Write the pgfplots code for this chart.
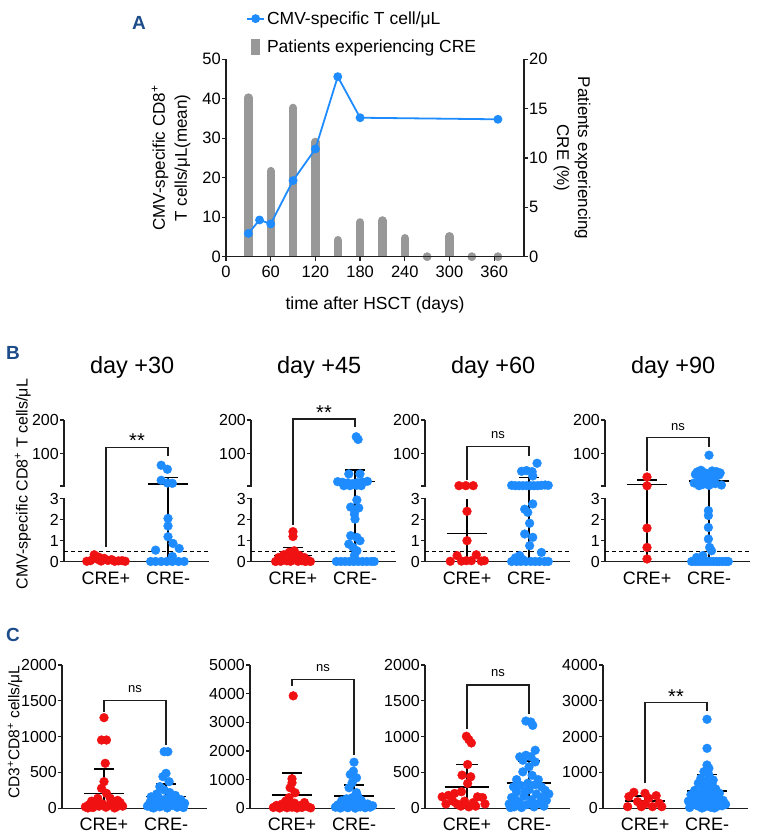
\documentclass[border=0pt]{standalone}
\usepackage{fontspec}
\setmainfont{Liberation Sans}
\usepackage{pgfplots}
\pgfplotsset{compat=1.18}
\definecolor{myred}{RGB}{240,18,18}
\definecolor{myblue}{RGB}{30,140,255}
\definecolor{bargrey}{RGB}{152,152,152}
\definecolor{lblue}{RGB}{28,76,138}
\definecolor{axc}{RGB}{30,30,30}
\pgfplotsset{
  /pgf/number format/assume math mode=true,
  /pgf/number format/1000 sep={},
  dotax/.style={
    scale only axis, width=145pt, xmin=0.3226, xmax=2.661,
    axis x line*=bottom, axis y line*=left,
    xtick={1,2}, xticklabels={CRE+,CRE-}, xtick style={draw=none},
    clip=false, tick align=outside, major tick length=4pt,
    axis line style={line width=1.3pt, axc},
    ytick style={line width=1.3pt, axc},
    xticklabel style={font=\fontsize{18}{20}\selectfont, yshift=-2.5pt},
    yticklabel style={font=\fontsize{16}{18}\selectfont, inner sep=1pt},
    title style={at={(axis description cs:0.47,1.332)}, anchor=center, font=\fontsize{23.5}{26}\selectfont},
  },
  bax/.style={dotax, height=141.7pt, ymin=0, ymax=200,
    y coord trafo/.code={\pgfmathparse{min(##1,3)+max(##1-3,0)*0.015954+0.605*(##1>3)}},
    y coord inv trafo/.code={\pgfmathparse{min(##1,3)+max(##1-3.605,0)/0.015954}},
    ytick={0,1,2,3,3.001,100,200}, yticklabels={0,1,2,3,,100,200}},
  cax/.style={dotax, height=143.3pt, ymin=0},
  rp/.style={only marks, mark=*, mark size=4.4pt, color=myred},
  bp/.style={only marks, mark=*, mark size=4.4pt, color=myblue},
  ml/.style={black, line width=1.6pt, mark=none},
  br/.style={axc, line width=1.2pt, mark=none},
  dl/.style={black, line width=1.1pt, dash pattern=on 4pt off 3pt, mark=none},
}
\newcommand{\gapfill}{\fill[white] ([xshift=-3pt]rel axis cs:0,0.4495) rectangle ([xshift=3pt]rel axis cs:0,0.5293);}
\begin{document}
\begin{tikzpicture}
\path[use as bounding box] (0pt,0pt) rectangle (759pt,838pt);
% ---------------- Panel A ----------------
\node[font=\fontsize{19}{20}\selectfont\bfseries, text=lblue] at (139pt,815pt) {A};
\begin{axis}[at={(226pt,581.3pt)}, anchor=south west, scale only axis, width=298pt, height=197.4pt,
  xmin=0, xmax=400, ymin=0, ymax=20, axis y line*=right, axis x line=none,
  ytick={0,5,...,20}, tick align=outside, major tick length=4pt,
  axis line style={line width=1.3pt, axc}, ytick style={line width=1.3pt, axc},
  yticklabel style={font=\fontsize{16.5}{18}\selectfont, inner sep=1pt},
  ylabel={Patients experiencing\\CRE (\%)},
  ylabel style={align=center, at={(axis description cs:1.161,0.5)}, anchor=center, rotate=180, font=\fontsize{17}{21}\selectfont}]
\addplot[ycomb, bargrey, line width=8.3pt, line cap=round] coordinates {
 (30,16.13) (60,8.68) (90,15.08) (120,11.64) (150,1.68) (180,3.48) (210,3.68) (240,1.88) (300,2.08)};
\addplot[only marks, mark=*, mark size=4.15pt, bargrey] coordinates {(270,0) (330,0) (365,0)};
\end{axis}
\begin{axis}[at={(226pt,581.3pt)}, anchor=south west, scale only axis, width=298pt, height=197.4pt,
  xmin=0, xmax=400, ymin=0, ymax=50, axis y line*=left, axis x line*=bottom,
  xtick={0,60,...,360}, ytick={0,10,...,50}, tick align=outside, major tick length=4pt,
  axis line style={line width=1.3pt, axc}, tick style={line width=1.3pt, axc},
  tick label style={font=\fontsize{16.5}{18}\selectfont, inner sep=1pt},
  xticklabel style={yshift=-4pt},
  xlabel={time after HSCT (days)},
  xlabel style={at={(axis description cs:0.5,-0.245)}, anchor=center, font=\fontsize{17.5}{20}\selectfont},
  ylabel={CMV-specific CD8\textsuperscript{+}\\T cells/μL(mean)},
  ylabel style={align=center, at={(axis description cs:-0.1846,0.5)}, anchor=center, font=\fontsize{17}{22}\selectfont},
  legend style={at={(axis description cs:0.067,1.253)}, anchor=north west, draw=none, fill=none,
     font=\fontsize{17.5}{20}\selectfont, row sep=10pt, inner sep=0pt,
     /tikz/every even column/.append style={column sep=4pt}},
  legend cell align=left]
\addplot[myblue, line width=1.8pt, mark=*, mark size=3.5pt] coordinates {
 (30,5.9) (45,9.3) (60,8.3) (90,19.3) (120,27.3) (150,45.6) (180,35.2) (365,34.8)};
\addlegendentry{CMV-specific T cell/μL}
\addlegendimage{legend image code/.code={\fill[bargrey] (4.54pt,-7.5pt) rectangle (12.54pt,7.5pt);}}
\addlegendentry{Patients experiencing CRE}
\end{axis}
% ---------------- Panel B ----------------
\node[font=\fontsize{19}{20}\selectfont\bfseries, text=lblue] at (13pt,485pt) {B};
% B1
\begin{axis}[bax, at={(64pt,276.3pt)}, anchor=south west, title={day +30},
  ylabel={CMV-specific CD8\textsuperscript{+} T cells/μL},
  ylabel style={at={(axis description cs:-0.283,0.548)}, anchor=center, font=\fontsize{16}{18}\selectfont}]
\gapfill
\addplot[dl] coordinates {(0.3226,0.5) (2.661,0.5)};
\addplot[br] coordinates {(1,0.71) (1,117) (2,117) (2,92.5)};
\addplot[rp] coordinates {(0.69,0.02) (0.75,0.05) (0.81,0.33) (0.86,0.12) (0.92,0.03) (0.97,0.16) (1.03,0.06) (1.09,0.1) (1.14,0.02) (1.2,0.04) (1.26,0.05) (1.31,0.02) (0.88,0.22)};
\addplot[bp] coordinates {(1.89,65) (1.99,53) (1.89,20) (1.99,12) (2.07,11) (2.0,2.06) (2.0,1.7) (2.0,1.19) (2.08,0.87) (1.8,0.55) (2.18,0.63) (2.07,0.25) (1.72,0.01) (1.8,0.01) (1.89,0.01) (1.98,0.01) (2.07,0.01) (2.17,0.01) (2.26,0.01)};
\addplot[ml] coordinates {(1.68,9) (2.32,9)};
\addplot[ml] coordinates {(2,0) (2,29)};
\addplot[ml] coordinates {(1.84,29) (2.16,29)};
\node[font=\fontsize{20}{20}\selectfont, yshift=-4pt] at (rel axis cs:0.5036,0.88) {**};
\end{axis}
% B2
\begin{axis}[bax, at={(251pt,276.3pt)}, anchor=south west, title={day +45}]
\gapfill
\addplot[dl] coordinates {(0.3226,0.5) (2.661,0.5)};
\addplot[br] coordinates {(1,1.75) (1,203) (2,203) (2,179)};
\addplot[rp] coordinates {(1,1.43) (1,1.2) (0.72,0.01) (0.77,0.2) (0.81,0.08) (0.85,0.33) (0.9,0.04) (0.94,0.45) (0.98,0.2) (1.02,0.52) (1.06,0.12) (1.1,0.3) (1.14,0.05) (1.18,0.2) (1.23,0.08) (1.28,0.01) (0.8,0.02) (1.2,0.01) (0.96,0.02) (1.08,0.02)};
\addplot[ml] coordinates {(0.7,0.29) (1.3,0.29)};
\addplot[ml] coordinates {(1,0) (1,0.68)};
\addplot[ml] coordinates {(0.84,0.68) (1.16,0.68)};
\addplot[bp] coordinates {(2.02,150) (2.05,142) (1.9,39) (2.08,39) (1.72,16) (1.8,14) (1.88,12) (1.96,10) (2.04,13) (2.12,15) (2.2,17) (1.82,4) (1.92,4) (2.02,5) (2.1,4) (2.03,2.94) (2.06,2.56) (1.93,2.6) (1.99,2.27) (2.0,2.03) (1.93,1.24) (2.03,1.16) (2.08,1.0) (1.9,0.84) (1.97,0.68) (2.03,0.52) (1.99,0.3) (1.7,0.01) (1.77,0.01) (1.84,0.01) (1.91,0.01) (1.98,0.01) (2.05,0.01) (2.12,0.01) (2.19,0.01) (2.26,0.01) (2.31,0.01)};
\addplot[ml] coordinates {(1.68,16) (2.32,16)};
\addplot[ml] coordinates {(2,0) (2,51)};
\addplot[ml] coordinates {(1.84,51) (2.16,51)};
\node[font=\fontsize{20}{20}\selectfont, yshift=-4pt] at (rel axis cs:0.5036,1.078) {**};
\end{axis}
% B3
\begin{axis}[bax, at={(425pt,276.3pt)}, anchor=south west, title={day +60}]
\gapfill
\addplot[dl] coordinates {(0.3226,0.5) (2.661,0.5)};
\addplot[br] coordinates {(1,21) (1,120) (2,120) (2,92.5)};
\addplot[ml] coordinates {(1,0) (1,3)};
\addplot[rp] coordinates {(0.87,4) (0.98,4) (1.1,4) (1,2.4) (1,1.0) (0.84,0.29) (1.15,0.33) (0.73,0.02) (0.91,0.03) (0.99,0.05) (1.07,0.05) (1.23,0.03) (1.28,0.05)};
\addplot[ml] coordinates {(0.67,1.35) (1.33,1.35)};
\addplot[ml] coordinates {(2,0) (2,29)};
\addplot[bp] coordinates {(2.13,71) (1.88,47) (1.96,49) (2.05,46) (2.06,33) (1.72,5) (1.78,4) (1.84,4) (1.9,4) (1.96,4) (2.02,4) (2.08,4) (2.14,4) (2.2,5) (2.26,6) (2.31,5) (2.06,2.75) (1.93,2.5) (1.98,2.35) (2.01,1.83) (1.93,1.32) (2.06,1.16) (2.01,0.76) (2.2,0.44) (1.85,0.29) (1.78,0.18) (1.9,0.1) (1.72,0.01) (1.8,0.01) (1.87,0.01) (1.95,0.01) (2.03,0.01) (2.1,0.01) (2.17,0.01) (2.25,0.01) (2.31,0.01)};
\addplot[ml] coordinates {(1.84,29) (2.16,29)};
\node[font=\fontsize{13}{14}\selectfont] at (rel axis cs:0.5036,0.894) {ns};
\end{axis}
% B4
\begin{axis}[bax, at={(605pt,276.3pt)}, anchor=south west, title={day +90}]
\gapfill
\addplot[dl] coordinates {(0.3226,0.5) (2.661,0.5)};
\addplot[br] coordinates {(1,48) (1,148) (2,148) (2,120)};
\addplot[ml] coordinates {(1,0) (1,21)};
\addplot[rp] coordinates {(1,30) (1,3.7) (1,1.6) (1,0.68) (1,0.13)};
\addplot[ml] coordinates {(0.67,7.8) (1.33,7.8)};
\addplot[ml] coordinates {(0.84,21) (1.16,21)};
\addplot[ml] coordinates {(2,0) (2,30)};
\addplot[bp] coordinates {(2,95) (1.81,45) (1.87,50) (1.94,42) (2.05,48) (2.12,46) (2.18,42) (1.78,38) (1.9,35) (2.0,33) (2.1,30) (2.16,36) (1.85,25) (1.95,22) (2.05,20) (1.9,8) (2.0,5) (1.84,4) (2.1,10) (2.2,6) (1.76,12) (1.99,2.43) (1.99,2.2) (1.99,1.63) (1.99,1.08) (2.01,0.68) (2.04,0.52) (1.9,0.29) (1.8,0.2) (1.85,0.1) (1.72,0.01) (1.77,0.01) (1.82,0.01) (1.87,0.01) (1.92,0.01) (1.97,0.01) (2.02,0.01) (2.07,0.01) (2.12,0.01) (2.17,0.01) (2.22,0.01) (2.27,0.01) (2.31,0.01)};
\addplot[ml] coordinates {(1.68,17.8) (2.32,17.8)};
\node[font=\fontsize{13}{14}\selectfont] at (rel axis cs:0.5036,0.953) {ns};
\end{axis}
% ---------------- Panel C ----------------
\node[font=\fontsize{19}{20}\selectfont\bfseries, text=lblue] at (13pt,203pt) {C};
% C1
\begin{axis}[cax, at={(62pt,29.7pt)}, anchor=south west, ymax=2000, ytick={0,500,...,2000},
  ylabel={CD3\textsuperscript{+}CD8\textsuperscript{+} cells/μL},
  ylabel style={at={(axis description cs:-0.324,0.532)}, anchor=center, font=\fontsize{15.5}{18}\selectfont}]
\addplot[br] coordinates {(1,1348) (1,1502) (2,1502) (2,883)};
\addplot[rp] coordinates {(1,1265) (0.96,953) (1.04,953) (1.02,628) (1,372) (0.96,279) (1.04,209) (0.9,140) (1.1,140) (0.7,20) (0.76,50) (0.82,10) (0.86,80) (0.92,30) (0.98,60) (1.03,15) (1.08,40) (1.14,70) (1.2,20) (1.26,80) (1.3,30) (0.8,100) (1.22,110) (0.74,5) (1.17,5)};
\addplot[ml] coordinates {(0.67,209) (1.33,209)};
\addplot[ml] coordinates {(1,0) (1,549)};
\addplot[ml] coordinates {(0.84,549) (1.16,549)};
\addplot[bp] coordinates {(1.97,790) (2.03,790) (2,488) (1.95,442) (2.05,372) (1.9,302) (1.97,256) (2.06,220) (1.85,200) (2.15,180) (1.7,30) (1.74,80) (1.78,10) (1.82,120) (1.86,50) (1.9,20) (1.94,100) (1.98,60) (2.02,5) (2.06,140) (2.1,40) (2.14,90) (2.18,15) (2.22,60) (2.26,30) (2.3,70) (1.76,160) (1.88,150) (2.0,130) (2.12,100) (2.24,120) (1.8,5) (2.28,10)};
\addplot[ml] coordinates {(1.68,163) (2.32,163)};
\addplot[ml] coordinates {(2,0) (2,340)};
\addplot[ml] coordinates {(1.84,340) (2.16,340)};
\node[font=\fontsize{13}{14}\selectfont] at (rel axis cs:0.5036,0.8325) {ns};
\end{axis}
% C2
\begin{axis}[cax, at={(250pt,29.7pt)}, anchor=south west, ymax=5000, ytick={0,1000,...,5000}]
\addplot[br] coordinates {(1,4270) (1,4503) (2,4503) (2,1875)};
\addplot[rp] coordinates {(1.02,3924) (1,1030) (1,891) (0.97,718) (1.05,544) (0.95,370) (0.9,255) (0.7,30) (0.75,100) (0.8,10) (0.84,150) (0.88,60) (0.92,20) (0.96,120) (1.0,40) (1.04,180) (1.08,10) (1.12,90) (1.16,30) (1.2,200) (1.25,60) (1.3,15)};
\addplot[ml] coordinates {(0.67,463) (1.33,463)};
\addplot[ml] coordinates {(1,0) (1,1238)};
\addplot[ml] coordinates {(0.84,1238) (1.16,1238)};
\addplot[bp] coordinates {(2,1609) (1.99,1296) (1.94,1180) (2.04,1065) (1.97,891) (1.92,718) (2.04,544) (1.97,370) (2.1,300) (1.85,250) (1.7,40) (1.74,120) (1.78,10) (1.82,180) (1.86,60) (1.9,20) (1.94,140) (1.98,80) (2.02,5) (2.06,200) (2.1,50) (2.14,110) (2.18,20) (2.22,150) (2.26,40) (2.3,90) (1.8,260) (2.12,260) (1.88,330) (2.06,420)};
\addplot[ml] coordinates {(1.68,428) (2.32,428)};
\addplot[ml] coordinates {(2,0) (2,810)};
\addplot[ml] coordinates {(1.84,810) (2.16,810)};
\node[font=\fontsize{13}{14}\selectfont] at (rel axis cs:0.5036,0.979) {ns};
\end{axis}
% C3
\begin{axis}[cax, at={(425pt,29.7pt)}, anchor=south west, ymax=2000, ytick={0,500,...,2000}]
\addplot[br] coordinates {(1,1111) (1,1722) (2,1722) (2,1319)};
\addplot[rp] coordinates {(0.99,1005) (1.03,958) (1.07,912) (1.01,611) (0.92,463) (1.06,440) (1.01,347) (0.91,231) (0.8,208) (0.6,160) (0.7,180) (0.77,100) (0.84,60) (0.9,30) (0.96,100) (1.03,20) (1.1,80) (1.17,160) (1.25,150) (1.29,60) (0.66,60) (1.14,30)};
\addplot[ml] coordinates {(0.64,301) (1.36,301)};
\addplot[ml] coordinates {(1,0) (1,611)};
\addplot[ml] coordinates {(0.83,611) (1.17,611)};
\addplot[bp] coordinates {(1.95,1218) (2.03,1204) (2.06,1157) (2.1,810) (1.95,740) (1.85,718) (2.03,718) (1.9,671) (2.1,648) (2.0,579) (1.9,509) (1.8,400) (2.15,400) (1.75,300) (2.2,300) (2.05,460) (1.68,60) (1.72,150) (1.76,20) (1.8,230) (1.84,90) (1.88,10) (1.92,170) (1.96,50) (2.0,260) (2.04,120) (2.08,20) (2.12,200) (2.16,70) (2.2,150) (2.24,30) (2.28,110) (2.32,200) (1.86,320) (1.98,350) (2.1,330) (1.78,120) (1.94,240) (2.06,60) (2.26,250) (1.7,10)};
\addplot[ml] coordinates {(1.64,356) (2.36,356)};
\addplot[ml] coordinates {(2,0) (2,662)};
\addplot[ml] coordinates {(1.83,662) (2.17,662)};
\node[font=\fontsize{13}{14}\selectfont] at (rel axis cs:0.5036,0.942) {ns};
\end{axis}
% C4
\begin{axis}[cax, at={(603pt,29.7pt)}, anchor=south west, ymax=4000, ytick={0,1000,...,4000}]
\addplot[br] coordinates {(1,698) (1,2961) (2,2961) (2,2726)};
\addplot[rp] coordinates {(0.82,446) (1,419) (1.18,353) (0.74,326) (1.06,279) (0.88,186) (1.23,140) (0.72,46) (0.94,46) (1.12,46) (1.27,46) (1.0,120)};
\addplot[ml] coordinates {(0.67,205) (1.33,205)};
\addplot[ml] coordinates {(1,0) (1,344)};
\addplot[ml] coordinates {(0.84,344) (1.16,344)};
\addplot[bp] coordinates {(2,2484) (2,1674) (2,1209) (2.03,1116) (1.95,1023) (2.03,930) (1.9,837) (2.1,790) (1.97,750) (1.86,700) (2.08,680) (1.92,620) (2.02,580) (2.14,540) (1.8,500) (1.96,480) (2.06,450) (2.2,420) (1.74,380) (1.88,400) (2.0,360) (2.12,350) (1.84,300) (1.94,280) (2.04,260) (2.16,240) (2.26,220) (1.7,200) (1.8,180) (1.9,160) (2.0,140) (2.1,150) (2.2,120) (2.3,110) (1.76,90) (1.86,60) (1.96,40) (2.06,30) (2.16,50) (2.24,70) (1.72,20) (2.12,10) (1.92,8)};
\addplot[ml] coordinates {(1.68,484) (2.32,484)};
\addplot[ml] coordinates {(2,0) (2,949)};
\addplot[ml] coordinates {(1.84,949) (2.16,949)};
\node[font=\fontsize{20}{20}\selectfont, yshift=-4pt] at (rel axis cs:0.5036,0.807) {**};
\end{axis}
\end{tikzpicture}
\end{document}
